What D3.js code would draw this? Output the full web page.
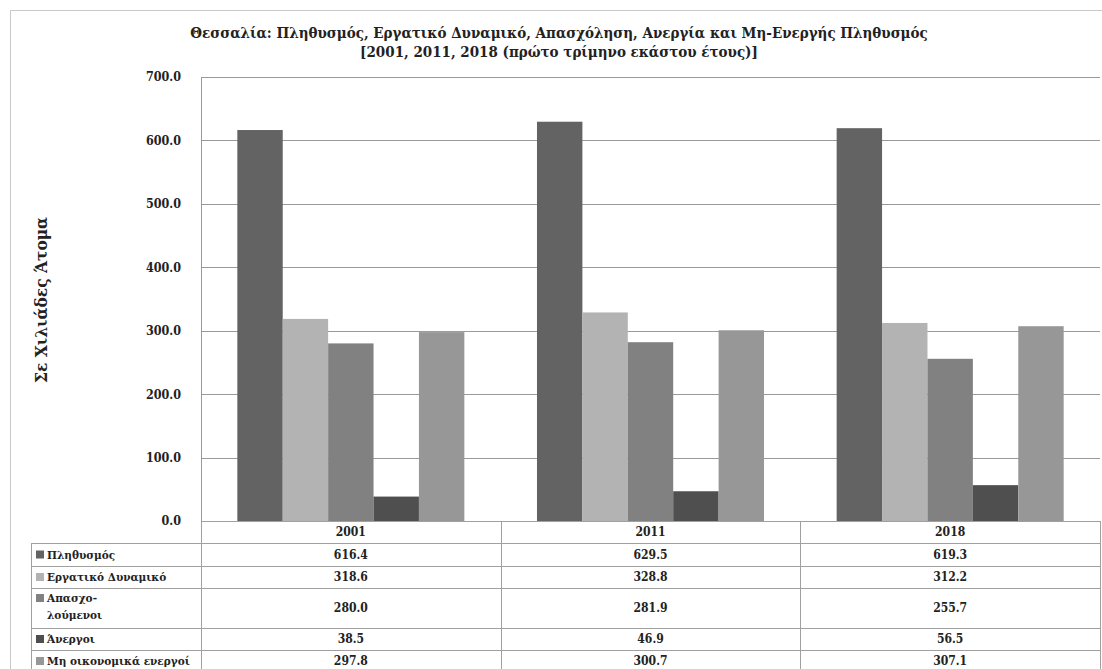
<!DOCTYPE html>
<html>
<head>
<meta charset="utf-8">
<script src="https://cdn.jsdelivr.net/npm/d3@7"></script>
<style>
  body { margin: 0; background: #fff; }
</style>
</head>
<body>
<div id="chart"></div>
<script>
// data
const years = ['2001', '2011', '2018'];
const seriesNames = ['Πληθυσμός', 'Εργατικό Δυναμικό', 'Απασχολούμενοι', 'Άνεργοι', 'Μη οικονομικά ενεργοί'];
const legendLines = [['Πληθυσμός'], ['Εργατικό Δυναμικό'], ['Απασχο-', 'λούμενοι'], ['Άνεργοι'], ['Μη οικονομικά ενεργοί']];
const plithysmos = [616.4, 629.5, 619.3];
const ergatiko = [318.6, 328.8, 312.2];
const apasxoloumenoi = [280.0, 281.9, 255.7];
const anergoi = [38.5, 46.9, 56.5];
const mhEnergoi = [297.8, 300.7, 307.1];
const yTicks = [0, 100, 200, 300, 400, 500, 600, 700];
const colors = ['#636363', '#b3b3b3', '#818181', '#4f4f4f', '#979797'];

const values = [plithysmos, ergatiko, apasxoloumenoi, anergoi, mhEnergoi];

const width = 1102, height = 669;
const plot = {left: 201, right: 1100, top: 77, bottom: 521};
const rowH = [22, 23, 22, 40, 22, 22];   // category row + legend rows
const tableLeft = 31;
const serif = '"DejaVu Serif Condensed", "DejaVu Serif", serif';

const svg = d3.select('#chart').append('svg')
  .attr('width', width).attr('height', height)
  .style('font-family', serif);

// pick a font size so that a string gets a given width
function fitSize(str, target) {
  const t = svg.append('text').attr('font-size', 100).attr('font-weight', 'bold').text(str);
  const w = t.node().getComputedTextLength();
  t.remove();
  return 100 * target / w;
}
const titleSize = fitSize('Θεσσαλία: Πληθυσμός, Εργατικό Δυναμικό, Απασχόληση, Ανεργία και Μη-Ενεργής Πληθυσμός', 738);
const yTitleSize = fitSize('Σε Χιλιάδες Άτομα', 166);
const tickSize = fitSize('600.0', 35);
const valueSize = fitSize('616.4', 34);
const legendSize = fitSize('Μη οικονομικά ενεργοί', 143);

// outer frame
svg.append('path')
  .attr('d', `M10.5,${height} V10.5 H${width}`)
  .attr('fill', 'none').attr('stroke', '#c8c8c8');

// title
const title = svg.append('text')
  .attr('text-anchor', 'middle')
  .attr('font-size', titleSize).attr('font-weight', 'bold').attr('fill', '#222');
title.append('tspan').attr('x', 559).attr('y', 38)
  .text('Θεσσαλία: Πληθυσμός, Εργατικό Δυναμικό, Απασχόληση, Ανεργία και Μη-Ενεργής Πληθυσμός');
title.append('tspan').attr('x', 559).attr('y', 57)
  .text('[2001, 2011, 2018 (πρώτο τρίμηνο εκάστου έτους)]');

const x0 = d3.scaleBand()
  .domain(years)
  .range([plot.left, plot.right])
  .padding(0);

const x1 = d3.scaleBand()
  .domain(seriesNames)
  .range([0, x0.bandwidth()])
  .paddingInner(0)
  .paddingOuter(0.8);

const y = d3.scaleLinear()
  .domain([0, 700])
  .range([plot.bottom, plot.top]);

// gridlines
svg.append('g')
  .selectAll('line').data(yTicks).enter().append('line')
  .attr('x1', plot.left).attr('x2', plot.right)
  .attr('y1', d => Math.round(y(d)) + 0.5).attr('y2', d => Math.round(y(d)) + 0.5)
  .attr('stroke', '#9a9a9a');

// y axis
const yAxis = g => g
  .attr('transform', `translate(${plot.left}, 0)`)
  .call(d3.axisLeft(y).tickValues(yTicks).tickFormat(d3.format('.1f')).tickSize(0).tickPadding(20))
  .call(g => g.attr('font-family', null))
  .call(g => g.select('.domain').attr('stroke', '#9a9a9a'))
  .call(g => g.selectAll('text')
    .attr('font-size', tickSize).attr('font-weight', 'bold').attr('fill', '#222'));
svg.append('g').call(yAxis);

// y title
svg.append('text')
  .attr('transform', 'translate(47, 300) rotate(-90)')
  .attr('text-anchor', 'middle')
  .attr('font-size', yTitleSize).attr('font-weight', 'bold').attr('fill', '#222')
  .text('Σε Χιλιάδες Άτομα');

// bars
const groups = svg.append('g')
  .selectAll('g').data(years).enter().append('g')
  .attr('transform', d => `translate(${x0(d)}, 0)`);

groups.selectAll('rect')
  .data((d, i) => seriesNames.map((s, j) => ({name: s, value: values[j][i], color: colors[j]})))
  .enter().append('rect')
  .attr('x', d => x1(d.name))
  .attr('y', d => y(d.value))
  .attr('width', x1.bandwidth())
  .attr('height', d => y(0) - y(d.value))
  .attr('fill', d => d.color);

// data table
const table = svg.append('g');
const rowTops = [plot.bottom];
rowH.forEach(h => rowTops.push(rowTops[rowTops.length - 1] + h));
const lineColor = '#a0a0a0';

rowTops.forEach((yy, i) => {
  table.append('line')
    .attr('x1', i === 0 ? plot.left : tableLeft).attr('x2', plot.right)
    .attr('y1', yy + 0.5).attr('y2', yy + 0.5)
    .attr('stroke', lineColor);
});
table.append('line')
  .attr('x1', tableLeft + 0.5).attr('x2', tableLeft + 0.5)
  .attr('y1', rowTops[1]).attr('y2', height)
  .attr('stroke', lineColor);
years.concat(['end']).forEach((yr, i) => {
  const xx = i < years.length ? x0(yr) : plot.right;
  table.append('line')
    .attr('x1', Math.round(xx) + 0.5).attr('x2', Math.round(xx) + 0.5)
    .attr('y1', plot.bottom).attr('y2', height)
    .attr('stroke', lineColor);
});

// category labels
table.selectAll('text.cat').data(years).enter().append('text')
  .attr('class', 'cat')
  .attr('x', d => x0(d) + x0.bandwidth() / 2)
  .attr('y', rowTops[0] + rowH[0] / 2 + 4)
  .attr('text-anchor', 'middle')
  .attr('font-size', valueSize).attr('font-weight', 'bold').attr('fill', '#222')
  .text(d => d);

// legend cells + values
seriesNames.forEach((s, j) => {
  const top = rowTops[j + 1], h = rowH[j + 1];
  const lines = legendLines[j];
  const firstY = lines.length > 1 ? top + 14 : top + h / 2 + 4;
  table.append('rect')
    .attr('x', 36).attr('y', firstY - 8)
    .attr('width', 8).attr('height', 8)
    .attr('fill', colors[j]);
  const t = table.append('text')
    .attr('font-size', legendSize).attr('font-weight', 'bold').attr('fill', '#222');
  lines.forEach((ln, k) => {
    t.append('tspan').attr('x', 47).attr('y', firstY + k * 17).text(ln);
  });
  years.forEach((yr, i) => {
    table.append('text')
      .attr('x', x0(yr) + x0.bandwidth() / 2)
      .attr('y', top + h / 2 + 4)
      .attr('text-anchor', 'middle')
      .attr('font-size', valueSize).attr('font-weight', 'bold').attr('fill', '#222')
      .text(d3.format('.1f')(values[j][i]));
  });
});
</script>
</body>
</html>
